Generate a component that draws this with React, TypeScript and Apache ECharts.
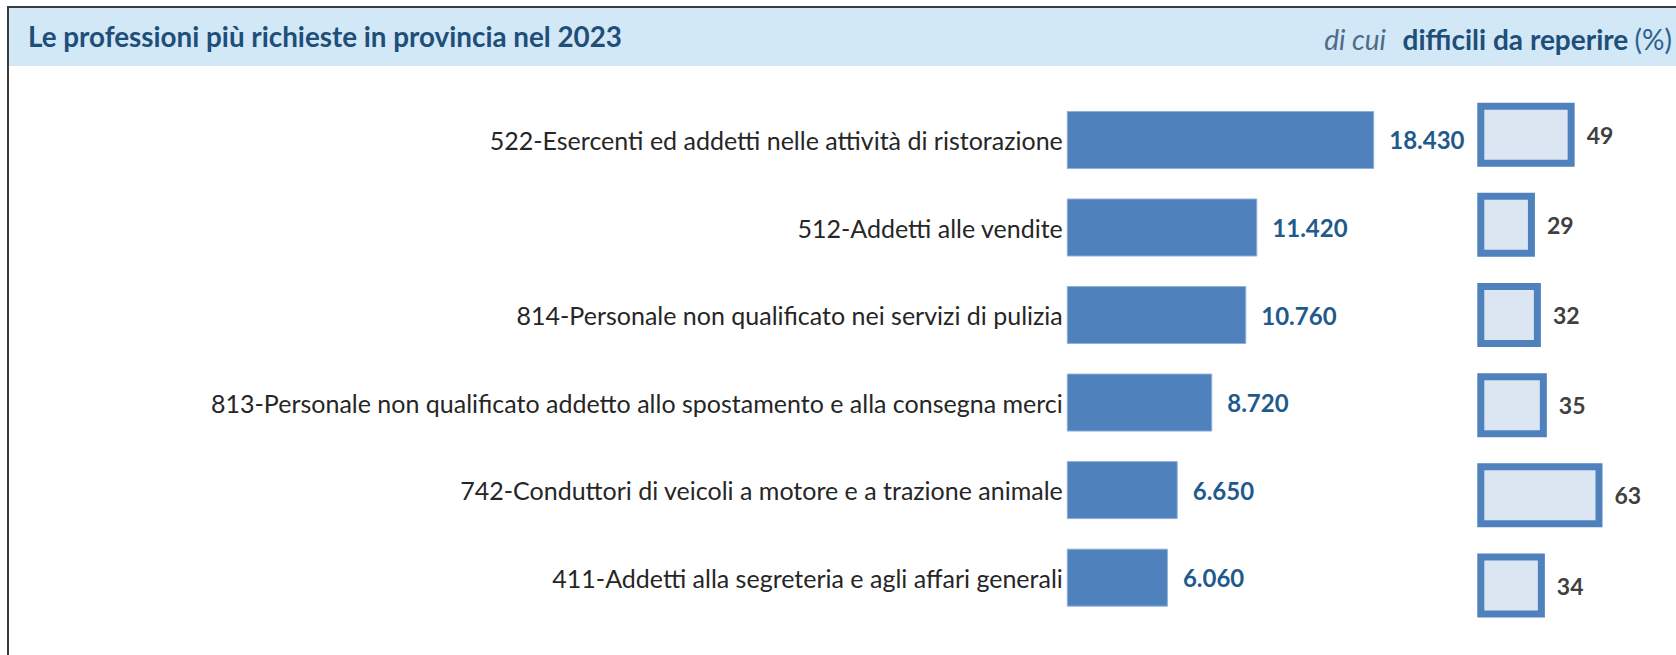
import React, { useEffect, useRef } from "react";
import * as echarts from "echarts";

const categories = [
  "522-Esercenti ed addetti nelle attività di ristorazione",
  "512-Addetti alle vendite",
  "814-Personale non qualificato nei servizi di pulizia",
  "813-Personale non qualificato addetto allo spostamento e alla consegna merci",
  "742-Conduttori di veicoli a motore e a trazione animale",
  "411-Addetti alla segreteria e agli affari generali",
];
const entrate = [18430, 11420, 10760, 8720, 6650, 6060];
const difficili = [49, 29, 32, 35, 63, 34];

const titleText = "Le professioni più richieste in provincia nel 2023";
const headerParts = ["di cui", "difficili da reperire", "(%)"];

const FONT = "Lato, 'Noto Sans', sans-serif";

function fmtIt(v: number): string {
  return String(v).replace(/\B(?=(\d{3})+(?!\d))/g, ".");
}

export default function App() {
  const ref = useRef<HTMLDivElement>(null);
  useEffect(() => {
    if (!ref.current) return;
    const chart = echarts.init(ref.current, undefined, { renderer: "svg" });
    chart.setOption({
      animation: false,
      backgroundColor: "#ffffff",
      grid: [
        { left: 1066.8, width: 333.6, top: 96.2, height: 525.2 },
        { left: 1477.3, width: 220, top: 89.6, height: 541 },
      ],
      xAxis: [
        { gridIndex: 0, type: "value", min: 0, max: 20000, show: false },
        { gridIndex: 1, type: "value", min: 0, max: 100, show: false },
      ],
      yAxis: [
        {
          gridIndex: 0,
          type: "category",
          data: categories,
          inverse: true,
          axisLine: { show: false },
          axisTick: { show: false },
          splitLine: { show: false },
          axisLabel: {
            margin: 4,
            fontSize: 25,
            fontFamily: FONT,
            color: "#262626",
          },
        },
        {
          gridIndex: 1,
          type: "category",
          data: categories,
          inverse: true,
          show: false,
        },
      ],
      series: [
        {
          type: "bar",
          xAxisIndex: 0,
          yAxisIndex: 0,
          data: entrate,
          barWidth: 58,
          itemStyle: { color: "#4f81bd", borderColor: "#8fb0d8", borderWidth: 1 },
          label: {
            show: true,
            position: "right",
            distance: 15,
            formatter: (p: any) => fmtIt(p.value),
            fontFamily: FONT,
            fontWeight: "bold",
            fontSize: 24,
            color: "#1f5a8c",
          },
        },
        {
          type: "bar",
          xAxisIndex: 1,
          yAxisIndex: 1,
          data: difficili,
          barWidth: 64,
          itemStyle: { color: "#dce6f2", borderColor: "#4f81bd", borderWidth: 7 },
          label: {
            show: true,
            position: "right",
            distance: 12,
            fontFamily: FONT,
            fontWeight: "bold",
            fontSize: 23,
            color: "#404040",
          },
        },
      ],
      graphic: [
        {
          type: "rect",
          shape: { x: 9, y: 8, width: 1667, height: 58 },
          style: { fill: "#d2e8f7" },
          z: 0,
        },
        {
          type: "line",
          shape: { x1: 7, y1: 7, x2: 1676, y2: 7 },
          style: { stroke: "#3a3a3a", lineWidth: 2 },
        },
        {
          type: "line",
          shape: { x1: 8, y1: 6, x2: 8, y2: 655 },
          style: { stroke: "#3a3a3a", lineWidth: 2 },
        },
        {
          type: "text",
          x: 28,
          y: 36.5,
          style: {
            text: titleText,
            fontFamily: FONT,
            fontWeight: "bold",
            fontSize: 27.8,
            fill: "#1f4e79",
            verticalAlign: "middle",
            align: "left",
          },
        },
        {
          type: "text",
          x: 1672,
          y: 39,
          style: {
            text:
              "{a|" + headerParts[0] + "}  {b|" + headerParts[1] + "} {c|" + headerParts[2] + "}",
            align: "right",
            verticalAlign: "middle",
            rich: {
              a: {
                fontFamily: FONT,
                fontStyle: "italic",
                fontSize: 28,
                fill: "#4f6b8a",
                color: "#4f6b8a",
                padding: [0, 10, 0, 0],
              },
              b: { fontFamily: FONT, fontWeight: "bold", fontSize: 28, fill: "#1f4e79", color: "#1f4e79" },
              c: { fontFamily: FONT, fontSize: 28, fill: "#2f5f8f", color: "#2f5f8f", padding: [0, 0, 0, 3] },
            },
          },
        },
      ],
    });
    return () => chart.dispose();
  }, []);
  return (
    <div
      ref={ref}
      style={{ position: "absolute", left: 0, top: 0, width: 1676, height: 655 }}
    />
  );
}
